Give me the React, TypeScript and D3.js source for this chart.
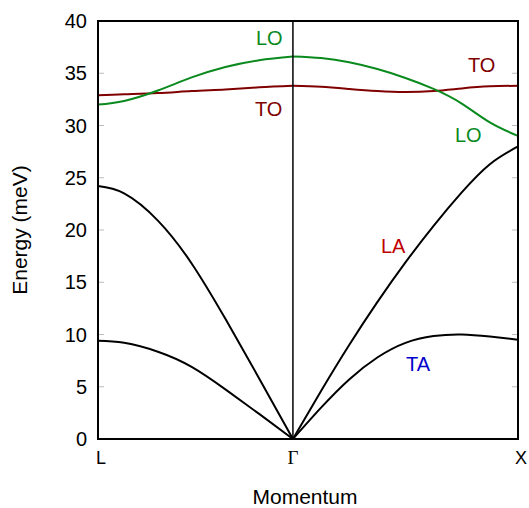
import * as d3 from "d3";

// momentum grids (Γ = 0, L at -√3/2, X at 1)
const qLeft = [-0.866, -0.75, -0.6, -0.45, -0.3, -0.15, 0];
const qRight = [0, 0.125, 0.25, 0.375, 0.5, 0.625, 0.75, 0.875, 1];

// energies in meV
const laLeft = [24.2, 23.5, 20.9, 16.8, 11.5, 5.8, 0];
const taLeft = [9.4, 9.2, 8.35, 6.9, 4.75, 2.4, 0];
const loLeft = [32.0, 32.35, 33.35, 34.6, 35.6, 36.25, 36.6];
const toLeft = [32.9, 33.0, 33.1, 33.3, 33.45, 33.65, 33.8];

const laRight = [0, 4.6, 9.0, 13.1, 16.9, 20.4, 23.6, 26.3, 28.0];
const taRight = [0, 3.0, 5.7, 7.8, 9.2, 9.85, 10.0, 9.8, 9.5];
const loRight = [36.6, 36.45, 36.05, 35.4, 34.55, 33.5, 32.1, 30.3, 29.0];
const toRight = [33.8, 33.7, 33.5, 33.3, 33.2, 33.3, 33.55, 33.75, 33.8];

const yTicks = [0, 5, 10, 15, 20, 25, 30, 35, 40];
const points = [
  { name: "L", q: -0.866, dx: 3 },
  { name: "Γ", q: 0, dx: 0 },
  { name: "X", q: 1, dx: 3 },
];

const W = 529;
const H = 508;
const margin = { top: 21, right: 11, bottom: 69, left: 98 };

const GREEN = "#0a8a1e";
const DARKRED = "#800000";

export default function App() {
  const x = d3
    .scaleLinear()
    .domain([-0.866, 1])
    .range([margin.left, W - margin.right]);
  const y = d3
    .scaleLinear()
    .domain([0, 40])
    .range([H - margin.bottom, margin.top]);

  const line = (qs: number[], es: number[]) =>
    d3
      .line<number>()
      .x((_, i) => x(qs[i]))
      .y((e) => y(e))
      .curve(d3.curveNatural)(es) || "";

  const branches = [
    { qs: qLeft, es: laLeft, c: "#000" },
    { qs: qLeft, es: taLeft, c: "#000" },
    { qs: qRight, es: laRight, c: "#000" },
    { qs: qRight, es: taRight, c: "#000" },
    { qs: qLeft, es: toLeft, c: DARKRED },
    { qs: qRight, es: toRight, c: DARKRED },
    { qs: qLeft, es: loLeft, c: GREEN },
    { qs: qRight, es: loRight, c: GREEN },
  ];

  const font = "Liberation Sans, Arial, sans-serif";
  const x0 = margin.left;
  const x1 = W - margin.right;
  const y0 = H - margin.bottom;
  const y1 = margin.top;

  return (
    <svg
      width={W}
      height={H}
      style={{ position: "absolute", left: 0, top: 0, background: "#fff" }}
      fontFamily={font}
    >
      {/* ticks, inward on both sides */}
      {yTicks.map((t) => (
        <g key={t}>
          <line x1={x0} x2={x0 + 6} y1={y(t)} y2={y(t)} stroke="#bbb" strokeWidth={1} />
          <line x1={x1 - 6} x2={x1} y1={y(t)} y2={y(t)} stroke="#bbb" strokeWidth={1} />
          <text
            x={x0 - 11}
            y={y(t)}
            textAnchor="end"
            dominantBaseline="central"
            fontSize={20}
            fill="#000"
          >
            {t}
          </text>
        </g>
      ))}

      {branches.map((b, i) => (
        <path key={i} d={line(b.qs, b.es)} fill="none" stroke={b.c} strokeWidth={2} />
      ))}

      {/* Γ line */}
      <line x1={x(0)} x2={x(0)} y1={y1} y2={y0} stroke="#000" strokeWidth={1.5} />

      {/* frame */}
      <rect x={x0} y={y1} width={x1 - x0} height={y0 - y1} fill="none" stroke="#000" strokeWidth={2} />

      {/* symmetry points */}
      {points.map((p) => (
        <text
          key={p.name}
          x={x(p.q) + p.dx}
          y={464}
          textAnchor="middle"
          fontSize={p.name === "Γ" ? 19 : 18}
          fontFamily={p.name === "Γ" ? "Liberation Serif, Times New Roman, serif" : font}
        >
          {p.name}
        </text>
      ))}

      {/* branch labels */}
      <text x={256} y={45} fontSize={20} fill={GREEN}>LO</text>
      <text x={255} y={116} fontSize={20} fill={DARKRED}>TO</text>
      <text x={468} y={72} fontSize={20} fill={DARKRED}>TO</text>
      <text x={455} y={142} fontSize={20} fill={GREEN}>LO</text>
      <text x={381} y={253} fontSize={20} fill="#c00000">LA</text>
      <text x={406} y={371} fontSize={20} fill="#0000cc">TA</text>

      {/* axis titles */}
      <text
        transform={`translate(27,${(y0 + y1) / 2}) rotate(-90)`}
        textAnchor="middle"
        fontSize={21}
      >
        Energy (meV)
      </text>
      <text x={(x0 + x1) / 2 - 3} y={504} textAnchor="middle" fontSize={21}>
        Momentum
      </text>
    </svg>
  );
}
